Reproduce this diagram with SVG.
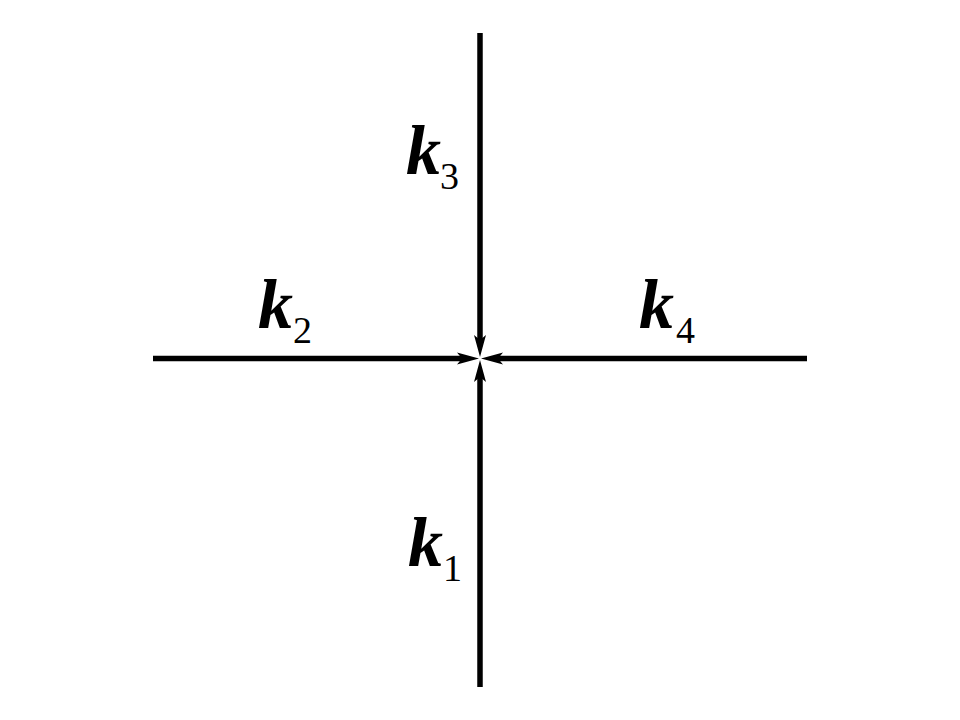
<svg xmlns="http://www.w3.org/2000/svg" width="960" height="720" viewBox="0 0 960 720">
<defs>
<style>
.ln{stroke:#000;stroke-width:5.5;fill:none}
.k{font-family:"Liberation Serif","Times New Roman",serif;font-weight:bold;font-style:italic;font-size:70px;fill:#000}
.s{font-family:"Liberation Serif","Times New Roman",serif;font-size:38px;fill:#000}
</style>
<path id="ah" d="M0,0 L-22,-6 L-17,0 L-22,6 Z" fill="#000"/>
</defs>
<rect width="960" height="720" fill="#fff"/>
<g id="connectors">
<line class="ln" x1="480" y1="33" x2="480" y2="342"/>
<line class="ln" x1="480" y1="687" x2="480" y2="375"/>
<line class="ln" x1="153" y1="358.5" x2="463" y2="358.5"/>
<line class="ln" x1="807" y1="358.5" x2="497" y2="358.5"/>
<use href="#ah" transform="translate(480,357) rotate(90)"/>
<use href="#ah" transform="translate(480,360) rotate(-90)"/>
<use href="#ah" transform="translate(479,358.5)"/>
<use href="#ah" transform="translate(481,358.5) rotate(180)"/>
</g>
<g id="k3"><text class="k" x="406" y="174">k</text><text class="s" x="440" y="189">3</text></g>
<g id="k2"><text class="k" x="258" y="328">k</text><text class="s" x="293" y="343">2</text></g>
<g id="k4"><text class="k" x="639" y="328">k</text><text class="s" x="676" y="343">4</text></g>
<g id="k1"><text class="k" x="408" y="566">k</text><text class="s" x="443" y="581">1</text></g>
</svg>
